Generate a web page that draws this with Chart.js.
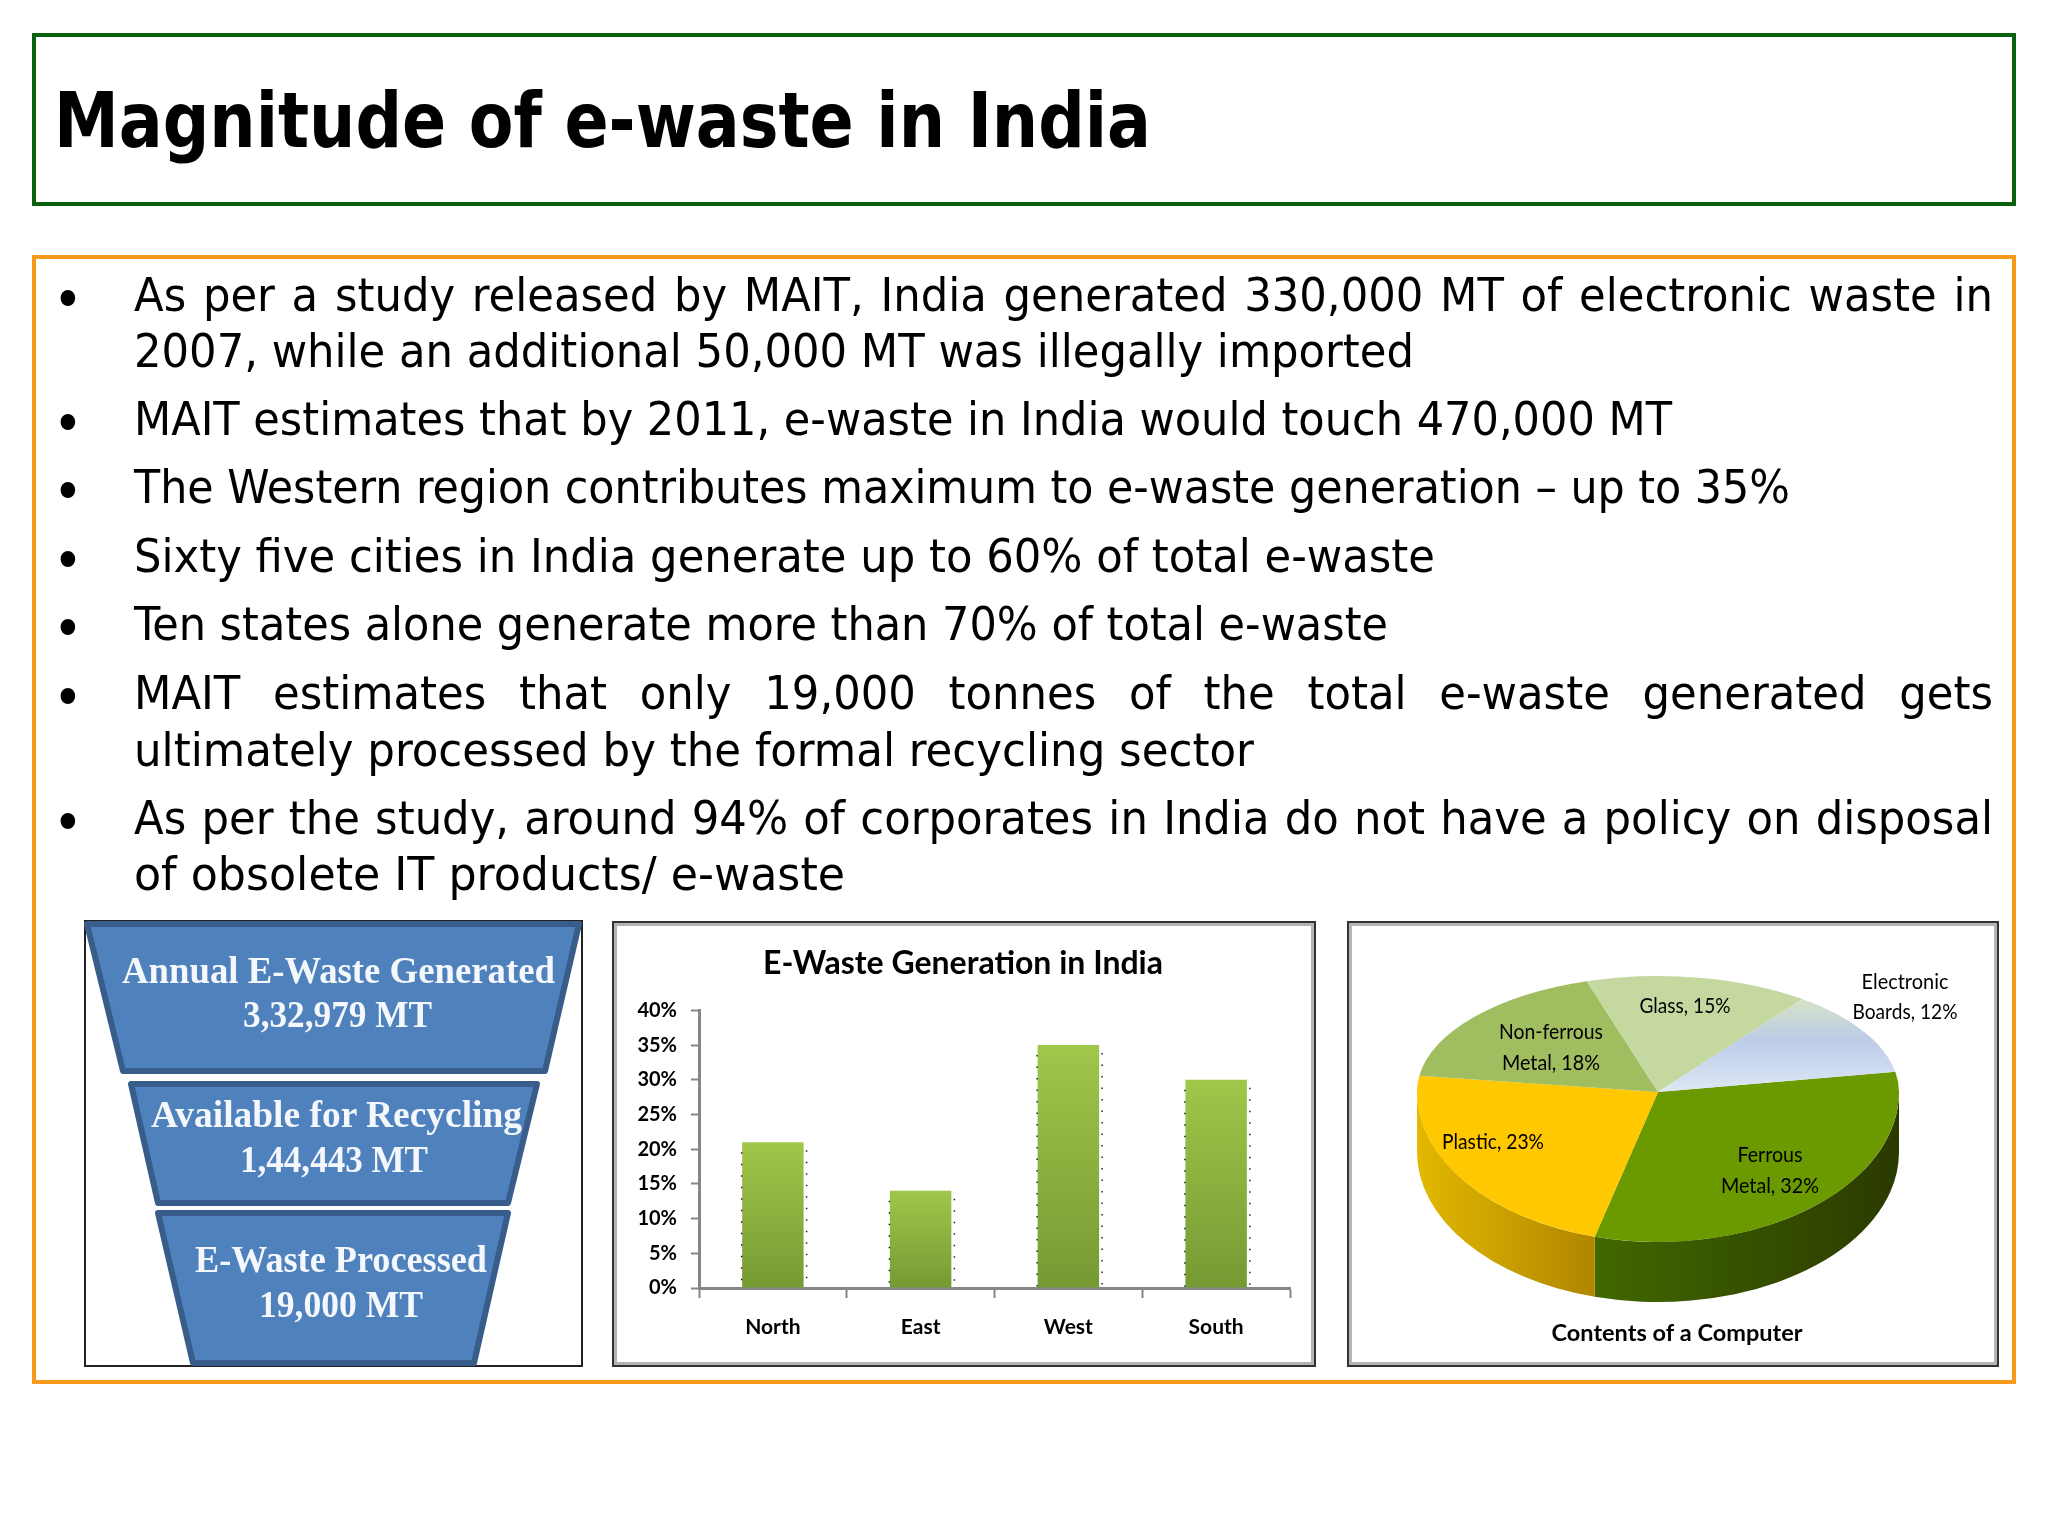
<!DOCTYPE html>
<html>
<head>
<meta charset="utf-8">
<title>Magnitude of e-waste in India</title>
<script src="https://cdn.jsdelivr.net/npm/chart.js@4"></script>
<style>
    html, body { margin: 0; padding: 0; background: #fff; }
    #page { position: relative; width: 2048px; height: 1536px; overflow: hidden; background: #fff; }
    .frame { position: absolute; box-sizing: border-box; background: #fff; }
    #titleBox { left: 32px; top: 33px; width: 1984px; height: 173px; border: 4px solid #0b6110; }
    #contentBox { left: 32px; top: 255px; width: 1984px; height: 1129px; border: 4px solid #f79a1c; }
    #funnelBox { left: 84px; top: 920px; width: 499px; height: 447px; border: 2px solid #222; }
    .chartBox { border: 2px solid #333; box-shadow: inset 0 0 0 3px #b4b4b4; }
    #barBox { left: 612px; top: 921px; width: 704px; height: 446px; }
    #pieBox { left: 1347px; top: 921px; width: 652px; height: 446px; }
    canvas { position: absolute; }
    #barCanvas { left: 612px; top: 921px; }
    #pieCanvas { left: 1347px; top: 921px; }
    #overlay { position: absolute; left: 0; top: 0; }
</style>
</head>
<body>
<div id="page">
    <div class="frame" id="titleBox"></div>
    <div class="frame" id="contentBox"></div>
    <div class="frame" id="funnelBox"></div>
    <div class="frame chartBox" id="barBox"></div>
    <div class="frame chartBox" id="pieBox"></div>
    <canvas id="barCanvas" width="703" height="445"></canvas>
    <canvas id="pieCanvas" width="651" height="445"></canvas>
    <svg id="overlay" width="2048" height="1536" xmlns="http://www.w3.org/2000/svg"></svg>
</div>
<script>
// Chart data
const regionLabels = ['North', 'East', 'West', 'South'];
const regionShares = [21, 14, 35, 30];
const contentLabels = ['Ferrous Metal', 'Plastic', 'Non-ferrous Metal', 'Glass', 'Electronic Boards'];
const contentShares = [32, 23, 18, 15, 12];

// Slide text
const slideTitle = 'Magnitude of e-waste in India';
const bodyLines = [
    'As per a study released by MAIT, India generated 330,000 MT of electronic waste in',
    '2007, while an additional 50,000 MT was illegally imported',
    'MAIT estimates that by 2011, e-waste in India would touch 470,000 MT',
    'The Western region contributes maximum to e-waste generation \u2013 up to 35%',
    'Sixty five cities in India generate up to 60% of total e-waste',
    'Ten states alone generate more than 70% of total e-waste',
    'MAIT estimates that only 19,000 tonnes of the total e-waste generated gets',
    'ultimately processed by the formal recycling sector',
    'As per the study, around 94% of corporates in India do not have a policy on disposal',
    'of obsolete IT products/ e-waste'
];
const funnelLines = [
    'Annual E-Waste Generated', '3,32,979 MT',
    'Available for Recycling', '1,44,443 MT',
    'E-Waste Processed', '19,000 MT'
];

// Layout of the slide text, in page pixels
const bodyBaselines = [311, 367, 435, 503, 572, 640, 709, 766, 834, 890];
const bodyRights = [1993, 1414, 1672, 1790, 1435, 1388, 1993, 1254, 1993, 845];
const justifiedLines = [0, 6, 8];
const bulletLines = [0, 2, 3, 4, 5, 6, 8];
const funnelShapes = [
    '87,924 579,924 545,1071 123,1071',
    '131,1084 537,1084 508,1203 158,1203',
    '158,1213 508,1213 474,1363 193,1363'
];
const funnelBaselines = [983, 1027, 1127, 1172, 1272, 1317];
const funnelLefts = [122, 243, 151, 240, 195, 259];
const funnelRights = [555, 432, 522, 428, 487, 423];

// Pie picture geometry, in pixels of the pie canvas
const pieCenter = { x: 311, y: 171 };
const pieRadiusX = 241;
const pieRadiusUp = 116;
const pieRadiusDown = 150;
const pieDepth = 60;
const pieSideColors = [['#416800', '#2b3a00'], ['#e2b800', '#b08600'], null, null, null];
const pieLabelSpots = [
    { x: 423, y: [241, 272], w: [65, 98] },
    { x: 146, y: [228], w: [102] },
    { x: 204, y: [118, 149], w: [104, 98] },
    { x: 338, y: [92], w: [91] },
    { x: 558, y: [68, 98], w: [87, 105] }
];

const SVG_NS = 'http://www.w3.org/2000/svg';
const overlay = document.getElementById('overlay');

/**
 * Add a text line to the overlay and return it
 */
function addText(text, x, y, font, weight, size, fill) {
    const el = document.createElementNS(SVG_NS, 'text');
    el.textContent = text;
    el.setAttribute('x', x);
    el.setAttribute('y', y);
    el.setAttribute('fill', fill);
    el.style.fontFamily = font;
    el.style.fontWeight = weight;
    el.style.fontSize = size + 'px';
    overlay.appendChild(el);
    return el;
}

function fitWidth(el, width) {
    el.setAttribute('textLength', width);
    el.setAttribute('lengthAdjust', 'spacingAndGlyphs');
}

/**
 * Draw the slide title, the bullets and the funnel
 */
function drawSlideText() {
    const sans = "'DejaVu Sans Condensed', 'DejaVu Sans', sans-serif";
    const left = 134;

    fitWidth(addText(slideTitle, 54, 147, sans, 'bold', 77, '#000'), 1097);

    // Glyph squeeze comes from the plain lines, the justified ones reuse it
    let ratioSum = 0;
    let ratioCount = 0;
    bodyLines.forEach((line, i) => {
        if (justifiedLines.includes(i)) return;
        const el = addText(line, left, bodyBaselines[i], sans, 'normal', 46, '#000');
        const target = bodyRights[i] - left;
        ratioSum += target / el.getComputedTextLength();
        ratioCount++;
        fitWidth(el, target);
    });
    const squeeze = ratioSum / ratioCount;
    justifiedLines.forEach(i => {
        const line = bodyLines[i];
        const el = addText(line, left, bodyBaselines[i], sans, 'normal', 46, '#000');
        const target = bodyRights[i] - left;
        const gaps = line.split(' ').length - 1;
        el.style.wordSpacing = ((target / squeeze - el.getComputedTextLength()) / gaps) + 'px';
        fitWidth(el, target);
    });
    bulletLines.forEach(i => {
        addText('\u2022', 53, bodyBaselines[i] + 8, sans, 'normal', 56, '#000');
    });

    funnelShapes.forEach(points => {
        const shape = document.createElementNS(SVG_NS, 'polygon');
        shape.setAttribute('points', points);
        shape.setAttribute('fill', '#4f81bd');
        shape.setAttribute('stroke', '#385d8a');
        shape.setAttribute('stroke-width', 6);
        shape.setAttribute('stroke-linejoin', 'round');
        overlay.appendChild(shape);
    });
    funnelLines.forEach((line, i) => {
        const el = addText(line, funnelLefts[i], funnelBaselines[i], "'Liberation Serif', serif", 'bold', 37, '#f4f7fb');
        fitWidth(el, funnelRights[i] - funnelLefts[i]);
    });
}

/**
 * Dotted edges next to the bars
 */
const barEdgesPlugin = {
    id: 'barEdges',
    afterDatasetsDraw(chart) {
        const ctx = chart.ctx;
        const bars = chart.getDatasetMeta(0).data;
        ctx.save();
        ctx.strokeStyle = '#222';
        ctx.lineWidth = 1.5;
        ctx.setLineDash([1.5, 10]);
        bars.forEach(bar => {
            const half = bar.width / 2;
            ctx.beginPath();
            ctx.moveTo(bar.x - half - 0.5, bar.y + 10);
            ctx.lineTo(bar.x - half - 0.5, bar.base);
            ctx.moveTo(bar.x + half + 3, bar.y + 8);
            ctx.lineTo(bar.x + half + 3, bar.base);
            ctx.stroke();
        });
        ctx.restore();
    }
};

/**
 * Map the round pie onto the flattened one: upper and lower half have their own height
 */
function flattenPie(ctx, arc, radiusY) {
    ctx.translate(pieCenter.x, pieCenter.y);
    ctx.scale(pieRadiusX / arc.outerRadius, radiusY / arc.outerRadius);
    ctx.translate(-arc.x, -arc.y);
}

/**
 * Flatten the pie, give it a side wall and write the slice labels
 */
const flatPiePlugin = {
    id: 'flatPie',
    beforeDatasetsDraw(chart) {
        const ctx = chart.ctx;
        const arcs = chart.getDatasetMeta(0).data;
        const r = arcs[0].outerRadius;
        const depth = pieDepth * r / pieRadiusDown;

        // The chart itself paints the lower half
        ctx.save();
        ctx.beginPath();
        ctx.rect(0, pieCenter.y - 0.5, chart.width, chart.height);
        ctx.clip();
        flattenPie(ctx, arcs[0], pieRadiusDown);

        arcs.forEach((arc, i) => {
            const colors = pieSideColors[i];
            if (!colors) return;
            [-2, 0, 2].forEach(turn => {
                const from = Math.max(arc.startAngle + turn * Math.PI, 0);
                const to = Math.min(arc.endAngle + turn * Math.PI, Math.PI);
                if (from >= to) return;
                const gradient = ctx.createLinearGradient(arc.x + r * Math.cos(to), 0, arc.x + r * Math.cos(from), 0);
                gradient.addColorStop(0, colors[0]);
                gradient.addColorStop(1, colors[1]);
                ctx.beginPath();
                ctx.arc(arc.x, arc.y, r, from, to);
                ctx.arc(arc.x, arc.y + depth, r, to, from, true);
                ctx.closePath();
                ctx.fillStyle = gradient;
                ctx.fill();
            });
        });
    },
    afterDatasetsDraw(chart) {
        const ctx = chart.ctx;
        const arcs = chart.getDatasetMeta(0).data;
        ctx.restore();

        // Upper half, same arc elements with a shorter radius
        ctx.save();
        ctx.beginPath();
        ctx.rect(0, 0, chart.width, pieCenter.y + 0.5);
        ctx.clip();
        flattenPie(ctx, arcs[0], pieRadiusUp);
        arcs.forEach(arc => arc.draw(ctx));
        ctx.restore();

        ctx.save();
        ctx.fillStyle = '#000';
        ctx.font = "21px Lato, sans-serif";
        ctx.textAlign = 'center';
        ctx.textBaseline = 'alphabetic';
        contentLabels.forEach((name, i) => {
            const lines = name.split(' ');
            lines[lines.length - 1] += ', ' + contentShares[i] + '%';
            const spot = pieLabelSpots[i];
            lines.forEach((line, n) => {
                ctx.fillText(line, spot.x, spot.y[n], spot.w[n]);
            });
        });
        ctx.restore();
    }
};

function dibujarBarras() {
    const axisColor = '#868686';
    const tickFont = { family: 'Lato, sans-serif', weight: 'bold', size: 20 };
    const categoryFont = { family: 'Lato, sans-serif', weight: 'bold', size: 21 };

    new Chart(document.getElementById('barCanvas'), {
        type: 'bar',
        data: {
            labels: regionLabels,
            datasets: [{
                data: regionShares,
                barPercentage: 0.416,
                categoryPercentage: 1,
                backgroundColor: function(context) {
                    const chart = context.chart;
                    if (!chart.chartArea) return '#8fb240';
                    const top = chart.scales.y.getPixelForValue(context.raw);
                    const gradient = chart.ctx.createLinearGradient(0, top, 0, chart.chartArea.bottom);
                    gradient.addColorStop(0, '#a0c64a');
                    gradient.addColorStop(1, '#769a33');
                    return gradient;
                }
            }]
        },
        plugins: [barEdgesPlugin],
        options: {
            responsive: false,
            animation: false,
            layout: { padding: { left: 24, right: 25 } },
            plugins: {
                legend: { display: false },
                tooltip: { enabled: false },
                title: {
                    display: true,
                    text: 'E-Waste Generation in India',
                    color: '#000',
                    font: { family: 'Lato, sans-serif', weight: 'bold', size: 32, lineHeight: 1.2 },
                    padding: { top: 23, bottom: 28 }
                }
            },
            scales: {
                x: {
                    z: 1,
                    afterFit(axis) { axis.height = 78; },
                    border: { color: axisColor, width: 3 },
                    grid: { drawOnChartArea: false, offset: true, tickLength: 10, tickColor: axisColor, tickWidth: 2 },
                    ticks: { color: '#000', font: categoryFont, padding: 17, maxRotation: 0 }
                },
                y: {
                    z: 1,
                    min: 0,
                    max: 40,
                    afterFit(axis) { axis.width = 63; },
                    border: { color: axisColor, width: 3 },
                    grid: { drawOnChartArea: false, tickLength: 8, tickColor: axisColor, tickWidth: 2 },
                    ticks: {
                        stepSize: 5,
                        color: '#000',
                        font: tickFont,
                        padding: 14,
                        callback: function(value) { return value + '%'; }
                    }
                }
            }
        }
    });
}

function dibujarPastel() {
    new Chart(document.getElementById('pieCanvas'), {
        type: 'pie',
        data: {
            labels: contentLabels,
            datasets: [{
                data: contentShares,
                clip: false,
                borderWidth: 0,
                backgroundColor: function(context) {
                    const fills = ['#6a9a00', '#ffc800', '#a0be60', '#c5d8a0'];
                    if (context.dataIndex < fills.length) return fills[context.dataIndex];
                    const chart = context.chart;
                    if (!chart.chartArea) return '#bccbe8';
                    const area = chart.chartArea;
                    const midY = (area.top + area.bottom) / 2;
                    const r = Math.min(area.width, area.height) / 2;
                    const gradient = chart.ctx.createLinearGradient(0, midY - r, 0, midY);
                    gradient.addColorStop(0, '#dfe6d2');
                    gradient.addColorStop(0.25, '#d3dfcb');
                    gradient.addColorStop(0.55, '#bccbe8');
                    gradient.addColorStop(1, '#dde7f5');
                    return gradient;
                }
            }]
        },
        plugins: [flatPiePlugin],
        options: {
            responsive: false,
            animation: false,
            rotation: 80,
            layout: { padding: { left: 9 } },
            plugins: {
                legend: { display: false },
                tooltip: { enabled: false },
                title: {
                    display: true,
                    position: 'bottom',
                    text: 'Contents of a Computer',
                    color: '#000',
                    font: { family: 'Lato, sans-serif', weight: 'bold', size: 23.5, lineHeight: 1.2 },
                    padding: { top: 0, bottom: 18 }
                }
            }
        }
    });
}

drawSlideText();
dibujarBarras();
dibujarPastel();
</script>
</body>
</html>
